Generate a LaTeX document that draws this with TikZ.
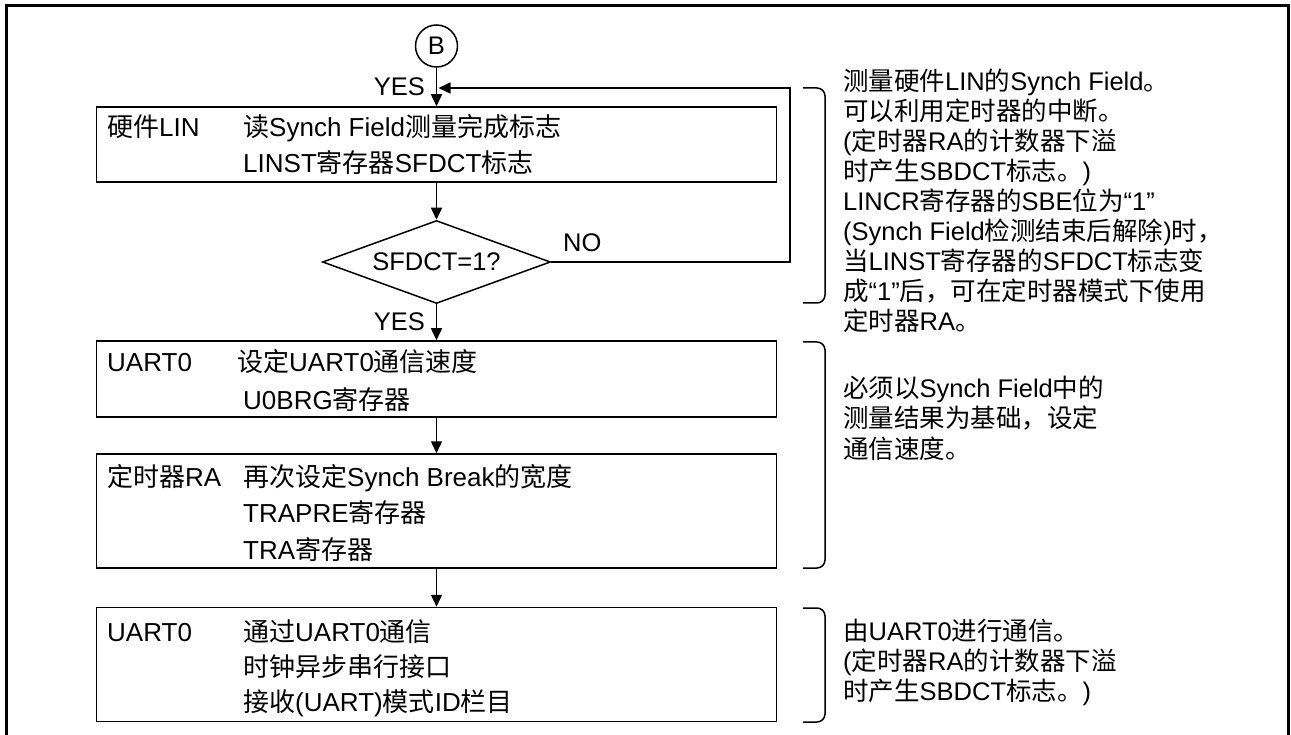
\documentclass[tikz,border=0pt]{standalone}
\usepackage{fontspec}
\setmainfont{Liberation Sans}
\newfontfamily\cjk{Noto Sans CJK SC}
\usetikzlibrary{arrows.meta,shapes.geometric}
\newcommand\zh[1]{{\cjk #1}}
\tikzset{
  box/.style={draw,line width=1.5pt,minimum width=680pt,inner sep=0pt},
  arr/.style={line width=1.5pt,-{Triangle[length=12pt,width=11pt]}},
  txt/.style={inner sep=0pt,anchor=base west,font=\fontsize{26}{30}\selectfont},
  note/.style={inner sep=0pt,anchor=base west,font=\fontsize{25.5}{30}\selectfont},
  lbl/.style={inner sep=0pt,font=\fontsize{25.5}{30}\selectfont},
  brk/.style={line width=1.5pt,rounded corners=8pt},
}
\begin{document}
\begin{tikzpicture}[x=1pt,y=-1pt]
\useasboundingbox (0,0) rectangle (1291,735);
% outer frame
\draw[line width=3pt] (6,735) -- (6,6) -- (1288,6) -- (1288,735);
% flow nodes
\node[draw,circle,line width=1.5pt,minimum size=42pt,inner sep=0pt,lbl] (B) at (436.5,46) {B};
\node[box,minimum height=75pt] (box1) at (436.5,144.5) {};
\node[draw,diamond,line width=1.5pt,minimum width=228pt,minimum height=83pt,aspect=2.75,inner sep=0pt,lbl] (dia) at (436.5,262) {SFDCT=1?};
\node[box,minimum height=76pt] (box2) at (436.5,379) {};
\node[box,minimum height=114pt] (box3) at (436.5,511) {};
\node[box,minimum height=114pt] (box4) at (436.5,664.5) {};
% connectors
\coordinate (fb1) at (790,262);
\coordinate (fb2) at (790,88);
\coordinate (fb3) at (438.5,88);
\draw[arr] (B.south) -- (box1.north);
\draw[arr] (box1.south) -- (dia.north);
\draw[arr] (dia.east) -- (fb1) -- (fb2) -- (fb3);
\draw[arr] (dia.south) -- (box2.north);
\draw[arr] (box2.south) -- (box3.north);
\draw[arr] (box3.south) -- (box4.north);
% labels
\node[lbl,anchor=base east] (yes1) at (425,96) {YES};
\node[lbl,anchor=base east] (yes2) at (425,331) {YES};
\node[lbl,anchor=base west] (no) at (563,252) {NO};
% box 1 text
\node[txt] (b1l) at (107,137) {\zh{硬件}LIN};
\node[txt] (b1a) at (243,137) {\zh{读}Synch Field\zh{测量完成标志}};
\node[txt] (b1b) at (243,173) {LINST\zh{寄存器}SFDCT\zh{标志}};
% box 2 text
\node[txt] (b2l) at (107,372) {UART0};
\node[txt] (b2a) at (237,372) {\zh{设定}UART0\zh{通信速度}};
\node[txt] (b2b) at (243,409) {U0BRG\zh{寄存器}};
% box 3 text
\node[txt] (b3l) at (107,486) {\zh{定时器}RA};
\node[txt] (b3a) at (243,486) {\zh{再次设定}Synch Break\zh{的宽度}};
\node[txt] (b3b) at (243,522.5) {TRAPRE\zh{寄存器}};
\node[txt] (b3c) at (243,559) {TRA\zh{寄存器}};
% box 4 text
\node[txt] (b4l) at (107,641) {UART0};
\node[txt] (b4a) at (243,641) {\zh{通过}UART0\zh{通信}};
\node[txt] (b4b) at (243,676) {\zh{时钟异步串行接口}};
\node[txt] (b4c) at (243,711) {\zh{接收}(UART)\zh{模式}ID\zh{栏目}};
% brackets
\draw[brk] (803,88) -- (825,88) -- (825,303) -- (803,303);
\draw[brk] (803,342) -- (825,342) -- (825,568) -- (803,568);
\draw[brk] (803,608) -- (825,608) -- (825,722) -- (803,722);
% right notes 1
\node[note] (r1a) at (843,90.5) {\zh{测量硬件}LIN\zh{的}Synch Field\zh{。}};
\node[note] (r1b) at (843,120.5) {\zh{可以利用定时器的中断。}};
\node[note] (r1c) at (843,150.5) {(\zh{定时器}RA\zh{的计数器下溢}};
\node[note] (r1d) at (843,180.5) {\zh{时产生}SBDCT\zh{标志。})};
\node[note] (r1e) at (843,210.5) {LINCR\zh{寄存器的}SBE\zh{位为}“1”};
\node[note] (r1f) at (843,240.5) {(Synch Field\zh{检测结束后解除})\zh{时，}};
\node[note] (r1g) at (843,270.5) {\zh{当}LINST\zh{寄存器的}SFDCT\zh{标志变}};
\node[note] (r1h) at (843,300.5) {\zh{成}“1”\zh{后，可在定时器模式下使用}};
\node[note] (r1i) at (843,330.5) {\zh{定时器}RA\zh{。}};
% right notes 2
\node[note] (r2a) at (843,397.5) {\zh{必须以}Synch Field\zh{中的}};
\node[note] (r2b) at (843,428) {\zh{测量结果为基础，设定}};
\node[note] (r2c) at (843,458.5) {\zh{通信速度。}};
% right notes 3
\node[note] (r3a) at (843,640.5) {\zh{由}UART0\zh{进行通信。}};
\node[note] (r3b) at (843,670.5) {(\zh{定时器}RA\zh{的计数器下溢}};
\node[note] (r3c) at (843,700.5) {\zh{时产生}SBDCT\zh{标志。})};
\end{tikzpicture}
\end{document}
